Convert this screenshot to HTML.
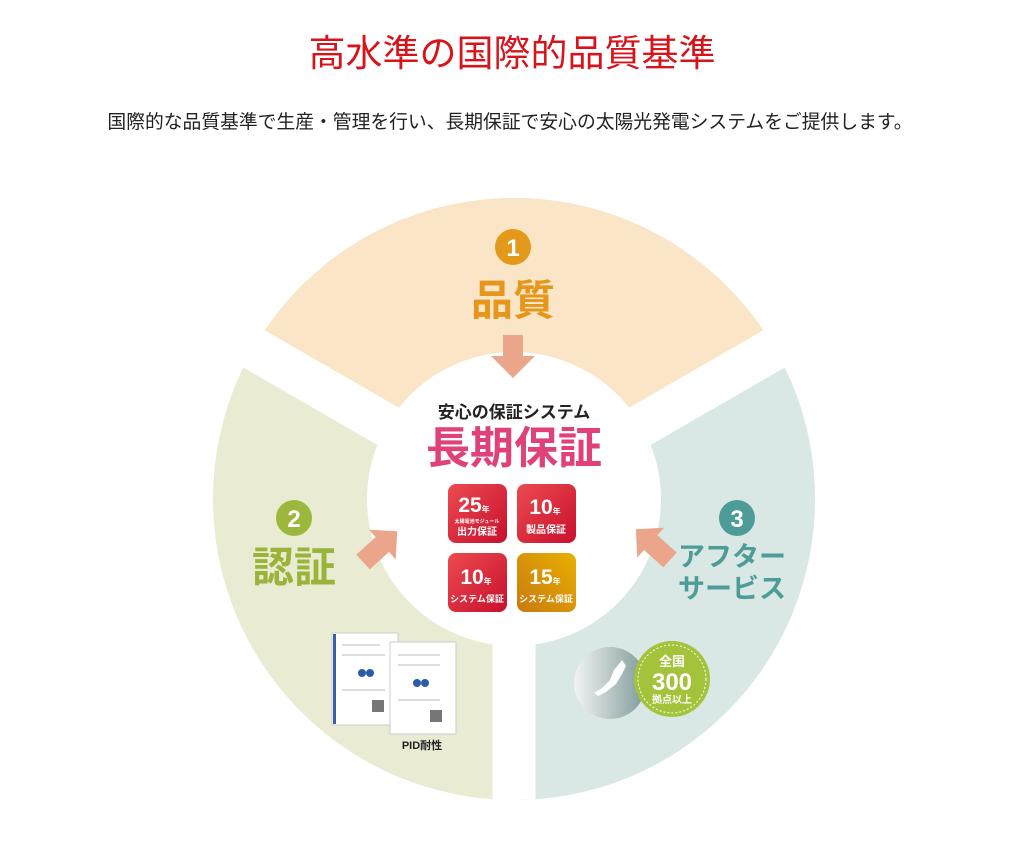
<!DOCTYPE html>
<html><head><meta charset="utf-8"><style>
html,body{margin:0;padding:0;background:#fff;width:1024px;height:844px;overflow:hidden}
svg{display:block}
text{font-family:"Liberation Sans","Noto Sans CJK JP",sans-serif}
</style></head><body>
<svg width="1024" height="844" viewBox="0 0 1024 844" xmlns="http://www.w3.org/2000/svg">
<defs>
<linearGradient id="rg" x1="0" y1="0" x2="1" y2="1"><stop offset="0" stop-color="#ec4a4f"/><stop offset="1" stop-color="#c8102e"/></linearGradient>
<linearGradient id="og" x1="1" y1="0" x2="0" y2="1"><stop offset="0" stop-color="#e8b000"/><stop offset="1" stop-color="#c97a10"/></linearGradient>
<linearGradient id="gl" x1="0" y1="0" x2="1" y2="0"><stop offset="0" stop-color="#f2f4f4"/><stop offset="1" stop-color="#7f9a98"/></linearGradient>
<clipPath id="cc"><circle cx="514" cy="499" r="301"/></clipPath>
</defs>
<text x="512" y="66" font-size="37" fill="#d7141c" text-anchor="middle">高水準の国際的品質基準</text>
<text x="510" y="128" font-size="18.8" fill="#222" text-anchor="middle">国際的な品質基準で生産・管理を行い、長期保証で安心の太陽光発電システムをご提供します。</text>

<g clip-path="url(#cc)">
<rect x="200" y="190" width="630" height="620" fill="#e9ecd3"/>
<path d="M514 499 L514 150 L900 150 L900 950 L514 950 Z" fill="#d9e7e5"/>
<path d="M514 499 L-100 144 L-100 100 L1100 100 L1100 144 Z" fill="#fae5c6"/>
<g fill="#fff">
<rect x="492.5" y="499" width="43" height="330"/>
<rect x="0" y="-21.5" width="360" height="43" transform="translate(514 499) rotate(-150)"/>
<rect x="0" y="-21.5" width="360" height="43" transform="translate(514 499) rotate(-30)"/>
</g>
</g>
<circle cx="514" cy="499" r="147" fill="#fff"/>

<circle cx="513" cy="247" r="18" fill="#e39a1a"/>
<text x="513" y="256" font-size="24" font-weight="bold" fill="#fff" text-anchor="middle">1</text>
<text x="513" y="315" font-size="42" font-weight="bold" fill="#e5961b" text-anchor="middle">品質</text>
<polygon points="503,335 523,335 523,356 535,356 513,378 491,356 503,356" fill="#eba58a"/>

<circle cx="294" cy="518" r="18" fill="#9cb83c"/>
<text x="294" y="527" font-size="24" font-weight="bold" fill="#fff" text-anchor="middle">2</text>
<text x="294" y="582" font-size="42" font-weight="bold" fill="#9ab43a" text-anchor="middle">認証</text>
<polygon points="0,-10 26,-10 26,-20 46,0 26,20 26,10 0,10" fill="#eba58a" transform="translate(363 562) rotate(-42)"/>

<circle cx="737" cy="518" r="18" fill="#4e9c98"/>
<text x="737" y="527" font-size="24" font-weight="bold" fill="#fff" text-anchor="middle">3</text>
<text x="732" y="566" font-size="27" font-weight="bold" fill="#4e9c98" text-anchor="middle">アフター</text>
<text x="732" y="598" font-size="27" font-weight="bold" fill="#4e9c98" text-anchor="middle">サービス</text>
<polygon points="0,-10 26,-10 26,-20 46,0 26,20 26,10 0,10" fill="#eba58a" transform="translate(670 560) rotate(-138)"/>

<text x="514" y="418" font-size="17" font-weight="bold" fill="#222" text-anchor="middle">安心の保証システム</text>
<text x="514" y="463" font-size="44" font-weight="bold" fill="#e0417a" text-anchor="middle">長期保証</text>
<rect x="448" y="484" width="59" height="59" rx="8" fill="url(#rg)"/>
<rect x="517" y="484" width="59" height="59" rx="8" fill="url(#rg)"/>
<rect x="448" y="553" width="59" height="59" rx="8" fill="url(#rg)"/>
<rect x="517" y="553" width="59" height="59" rx="8" fill="url(#og)"/>
<g fill="#fff" font-weight="bold" text-anchor="middle">
<text x="474" y="512" font-size="21">25<tspan font-size="8">年</tspan></text>
<text x="477" y="523" font-size="5">太陽電池モジュール</text>
<text x="477" y="535" font-size="10">出力保証</text>
<text x="545" y="514" font-size="21">10<tspan font-size="8">年</tspan></text>
<text x="546" y="533" font-size="10">製品保証</text>
<text x="476" y="584" font-size="21">10<tspan font-size="8">年</tspan></text>
<text x="477" y="602" font-size="9">システム保証</text>
<text x="545" y="584" font-size="21">15<tspan font-size="8">年</tspan></text>
<text x="546" y="602" font-size="9">システム保証</text>
</g>

<rect x="332" y="633" width="66" height="92" fill="#fff" stroke="#ccc"/>
<rect x="333" y="634" width="3" height="90" fill="#3a5ea8"/>
<rect x="390" y="642" width="66" height="92" fill="#fff" stroke="#ccc"/>
<circle cx="362" cy="673" r="4" fill="#2a5ca8"/><circle cx="370" cy="673" r="4" fill="#2a5ca8"/>
<circle cx="417" cy="683" r="4" fill="#2a5ca8"/><circle cx="425" cy="683" r="4" fill="#2a5ca8"/>
<rect x="372" y="700" width="12" height="12" fill="#777"/>
<rect x="430" y="710" width="12" height="12" fill="#777"/>
<g stroke="#bbb" stroke-width="1">
<line x1="342" y1="645" x2="380" y2="645"/><line x1="342" y1="655" x2="385" y2="655"/><line x1="342" y1="690" x2="385" y2="690"/>
<line x1="398" y1="655" x2="440" y2="655"/><line x1="398" y1="665" x2="440" y2="665"/><line x1="398" y1="700" x2="440" y2="700"/>
</g>
<text x="422" y="749" font-size="11" font-weight="bold" fill="#222" text-anchor="middle">PID耐性</text>

<circle cx="610" cy="683" r="36" fill="url(#gl)"/>
<path d="M622 660 l4 6 -4 8 -6 10 -10 8 -8 4 -4 -3 8 -5 8 -8 4 -10z" fill="#fff"/>
<circle cx="672" cy="679" r="38" fill="#a3c43a"/>
<circle cx="672" cy="679" r="34" fill="none" stroke="#fff" stroke-width="1" stroke-dasharray="2 2"/>
<g fill="#fff" font-weight="bold" text-anchor="middle">
<text x="672" y="666" font-size="13">全国</text>
<text x="672" y="690" font-size="24">300</text>
<text x="672" y="703" font-size="10">拠点以上</text>
</g>
</svg>
</body></html>
